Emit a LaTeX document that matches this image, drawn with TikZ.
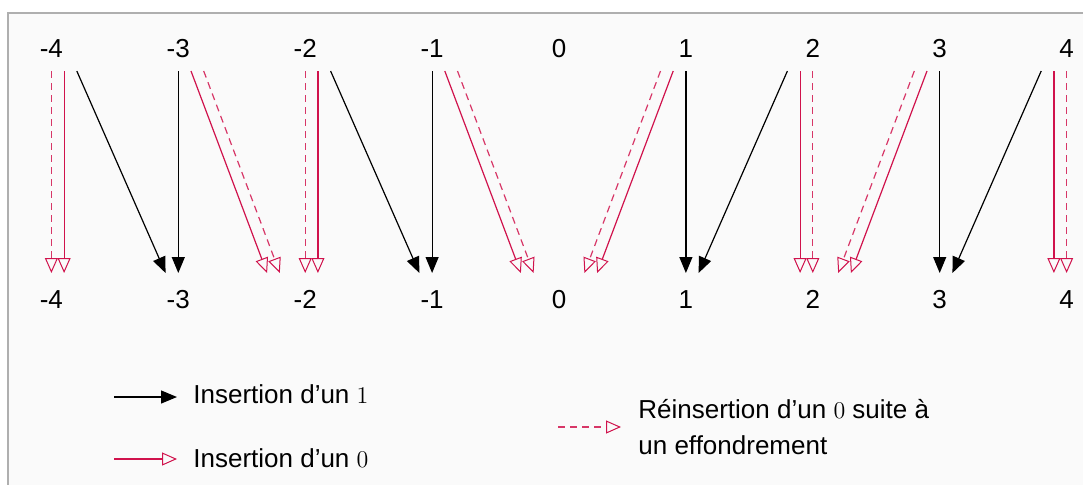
\documentclass[tikz,border=0pt]{standalone}
\usepackage{fontspec}
\setmainfont{Liberation Sans}
\usetikzlibrary{arrows.meta}
\definecolor{zred}{RGB}{208,18,76}
\definecolor{bgc}{RGB}{250,250,250}
\definecolor{framec}{RGB}{175,175,175}
\tikzset{
  lab/.style={inner sep=0pt, font=\fontsize{13}{15}\selectfont},
  legtxt/.style={inner sep=0pt, anchor=base west, align=left, font=\fontsize{13}{18}\selectfont},
  one/.style={draw=black, line width=0.6pt, -{Triangle[length=8pt,width=6.5pt]}},
  zero/.style={draw=zred, line width=0.6pt, -{Triangle[open,length=7.5pt,width=6.5pt,line width=0.5pt]}},
  rezero/.style={draw=zred!85, line width=0.6pt, dash pattern=on 3.5pt off 2.5pt,
    -{Triangle[open,length=7.5pt,width=6.5pt,line width=0.5pt,color=zred]}},
}
\begin{document}
\begin{tikzpicture}[x=0.5pt,y=-0.5pt]
\useasboundingbox (0,0) rectangle (1083,484);
\draw[framec, line width=0.75pt, fill=bgc] (8,13) rectangle (1100,500);
\foreach \i in {-4,...,4}{
  \pgfmathsetmacro\xx{559+126.9*(\i)}
  \node[lab, anchor=base] (t\i) at (\xx,57) {\i};
  \node[lab, anchor=base] (b\i) at (\xx,308) {\i};
  \foreach \k/\n in {-3/m3,-2/m2,-1/m1,0/z,1/p1,2/p2,3/p3}{
    \coordinate (s\i\n) at (\xx+12.7*\k,71);
    \coordinate (e\i\n) at (\xx+12.7*\k,273);
  }
}
% insertion of a 1
\draw[one] (s-4p2) -- (e-3m1);
\draw[one] (s-3z) -- (e-3z);
\draw[one] (s-2p2) -- (e-1m1);
\draw[one] (s-1z) -- (e-1z);
\draw[one] (s1z) -- (e1z);
\draw[one] (s2m2) -- (e1p1);
\draw[one] (s3z) -- (e3z);
\draw[one] (s4m2) -- (e3p1);
% insertion of a 0
\draw[zero] (s-4p1) -- (e-4p1);
\draw[zero] (s-3p1) -- (e-2m3);
\draw[zero] (s-2p1) -- (e-2p1);
\draw[zero] (s-1p1) -- (e0m3);
\draw[zero] (s1m1) -- (e0p3);
\draw[zero] (s2m1) -- (e2m1);
\draw[zero] (s3m1) -- (e2p3);
\draw[zero] (s4m1) -- (e4m1);
% reinsertion of a 0
\draw[rezero] (s-4z) -- (e-4z);
\draw[rezero] (s-3p2) -- (e-2m2);
\draw[rezero] (s-2z) -- (e-2z);
\draw[rezero] (s-1p2) -- (e0m2);
\draw[rezero] (s1m2) -- (e0p2);
\draw[rezero] (s2z) -- (e2z);
\draw[rezero] (s3m2) -- (e2p2);
\draw[rezero] (s4z) -- (e4z);
% legend
\coordinate (l1a) at (114,397); \coordinate (l1b) at (177,397);
\coordinate (l2a) at (114,459); \coordinate (l2b) at (177,459);
\coordinate (l3a) at (558,427); \coordinate (l3b) at (621,427);
\draw[one] (l1a) -- (l1b);
\draw[zero] (l2a) -- (l2b);
\draw[rezero] (l3a) -- (l3b);
\node[legtxt] (lt1) at (193,403) {Insertion d’un $1$};
\node[legtxt] (lt2) at (193,467) {Insertion d’un $0$};
\node[legtxt] (lt3) at (638,454) {Réinsertion d’un $0$ suite à\\un effondrement};
\end{tikzpicture}
\end{document}
